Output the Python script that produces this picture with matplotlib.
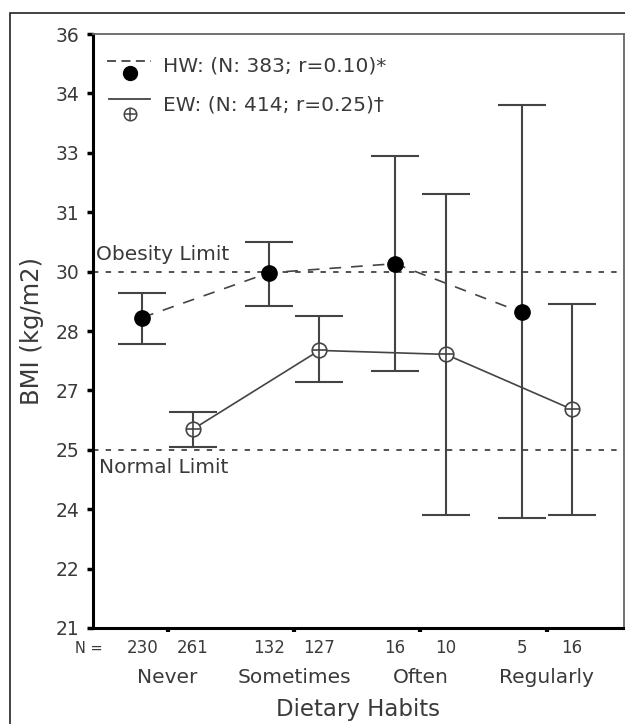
import matplotlib
matplotlib.use('Agg')
from matplotlib import pyplot as plt
from matplotlib.patches import Rectangle
import numpy as np

# dietary habit categories
cats = ['Never', 'Sometimes', 'Often', 'Regularly']
# HW group: mean BMI and error bar ends
hw_mean = [28.84, 29.97, 30.20, 28.97]
hw_hi = [29.45, 30.76, 32.92, 34.21]
hw_lo = [28.18, 29.14, 27.48, 23.77]
hw_n = [230, 132, 16, 5]
# EW group
ew_mean = [26.02, 28.01, 27.91, 26.52]
ew_hi = [26.45, 28.87, 31.97, 29.19]
ew_lo = [25.56, 27.20, 23.85, 23.85]
ew_n = [261, 127, 10, 16]
# y axis ticks (evenly spaced, labels as printed)
yticks = [21, 22.5, 24, 25.5, 27, 28.5, 30, 31.5, 33, 34.5, 36]
ylabels = ['21', '22', '24', '25', '27', '28', '30', '31', '33', '34', '36']
obesity_limit = 30
normal_limit = 25.5

grey = '#444444'
txt = '#3a3a3a'

fig = plt.figure(figsize=(6.25, 7.24), dpi=100)
ax = fig.add_axes([0.1488, 0.1326, 0.8496, 0.8204])

fig.patches.append(Rectangle((0.016, -0.01), 1.0, 0.992, transform=fig.transFigure,
                             fill=False, edgecolor='#222222', linewidth=1.2))

x = np.arange(len(cats))
off = 0.2
xh = x - off
xe = x + off

# limit lines
ax.axhline(obesity_limit, color=grey, linestyle=(0, (3, 4)), linewidth=1.3, zorder=1)
ax.axhline(normal_limit, color=grey, linestyle=(0, (3, 4)), linewidth=1.3, zorder=1)
ax.text(-0.57, obesity_limit + 0.2, 'Obesity Limit', color=txt, fontsize=14.5, va='bottom')
ax.text(-0.54, normal_limit - 0.2, 'Normal Limit', color=txt, fontsize=14.5, va='top')

hw_err = [np.array(hw_mean) - np.array(hw_lo), np.array(hw_hi) - np.array(hw_mean)]
ew_err = [np.array(ew_mean) - np.array(ew_lo), np.array(ew_hi) - np.array(ew_mean)]
ax.errorbar(xh, hw_mean, yerr=hw_err, fmt='none', ecolor=grey, elinewidth=1.5,
            capsize=17.5, capthick=1.5, zorder=2)
ax.errorbar(xe, ew_mean, yerr=ew_err, fmt='none', ecolor=grey, elinewidth=1.5,
            capsize=17.5, capthick=1.5, zorder=2)

ax.plot(xh, hw_mean, color=grey, linestyle=(0, (7, 6)), linewidth=1.2, zorder=3)
ax.plot(xh, hw_mean, 'o', color='black', markersize=11, zorder=4)
ax.plot(xe, ew_mean, color=grey, linestyle='-', linewidth=1.2, zorder=3)
ax.plot(xe, ew_mean, 'o', markerfacecolor='white', markeredgecolor=grey,
        markersize=10.5, markeredgewidth=1.2, zorder=4)
ax.plot(xe, ew_mean, '+', color=grey, markersize=10.5, markeredgewidth=1.2, zorder=5)

# legend drawn by hand
tr = ax.transAxes
ax.plot([0.027, 0.11], [0.954, 0.954], color=grey, linestyle=(0, (5, 3)),
        linewidth=1.3, transform=tr)
ax.plot([0.07], [0.935], 'o', color='black', markersize=10, transform=tr)
ax.plot([0.03, 0.107], [0.890, 0.890], color=grey, linewidth=1.3, transform=tr)
ax.plot([0.07], [0.866], 'o', markerfacecolor='white', markeredgecolor=grey,
        markersize=9, markeredgewidth=1.1, transform=tr)
ax.plot([0.07], [0.866], '+', color=grey, markersize=9, markeredgewidth=1.1, transform=tr)
ax.text(0.131, 0.946, 'HW: (N: 383; r=0.10)*', transform=tr, color=txt,
        fontsize=14.5, va='center')
ax.text(0.131, 0.881, 'EW: (N: 414; r=0.25)\u2020', transform=tr, color=txt,
        fontsize=14.5, va='center')

ax.set_xlim(-0.59, 3.61)
ax.set_ylim(21, 36)
ax.set_yticks(yticks)
ax.set_yticklabels(ylabels, fontsize=13.5, color=txt)
ax.set_xticks(x)
ax.set_xticklabels([])
ax.tick_params(axis='y', direction='out', length=4, width=2.5, pad=6, color='black')
ax.tick_params(axis='x', direction='out', length=3, width=3, color='black')

for s in ['left', 'bottom']:
    ax.spines[s].set_linewidth(2.2)
    ax.spines[s].set_color('black')
for s in ['top', 'right']:
    ax.spines[s].set_linewidth(1.3)
    ax.spines[s].set_color('#666666')

# N row and category labels
btr = ax.get_xaxis_transform()
ax.text(-0.62, -0.034, 'N =', transform=btr, color=txt, fontsize=10.5,
        ha='center', va='center', clip_on=False)
for i in range(len(cats)):
    ax.text(xh[i], -0.034, str(hw_n[i]), transform=btr, color=txt, fontsize=12,
            ha='center', va='center', clip_on=False)
    ax.text(xe[i], -0.034, str(ew_n[i]), transform=btr, color=txt, fontsize=12,
            ha='center', va='center', clip_on=False)
    ax.text(x[i], -0.084, cats[i], transform=btr, color=txt, fontsize=14.5,
            ha='center', va='center', clip_on=False)

ax.text(0.5, -0.137, 'Dietary Habits', transform=tr, color=txt, fontsize=16.5,
        ha='center', va='center')
ax.set_ylabel('BMI (kg/m2)', fontsize=17.5, color=txt, labelpad=8)

fig.savefig('out.png', dpi=100)
